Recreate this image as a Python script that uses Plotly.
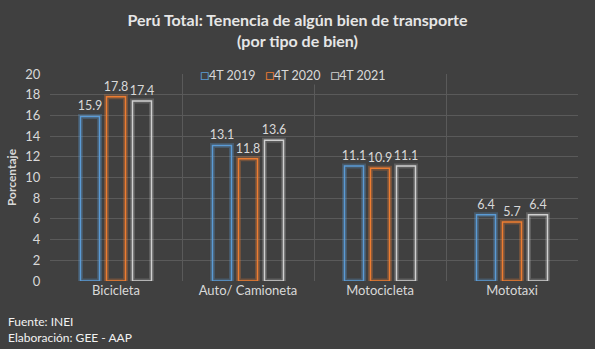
import plotly.graph_objects as go

categories = ["Bicicleta", "Auto/ Camioneta", "Motocicleta", "Mototaxi"]
series_names = ["4T 2019", "4T 2020", "4T 2021"]
v2019 = [15.9, 13.1, 11.1, 6.4]
v2020 = [17.8, 11.8, 10.9, 5.7]
v2021 = [17.4, 13.6, 11.1, 6.4]
y_ticks = [0, 2, 4, 6, 8, 10, 12, 14, 16, 18, 20]

series_values = [v2019, v2020, v2021]
colors = ["#5B9BD5", "#ED7D31", "#D0D0D0"]
glows = ["rgba(91,155,213,0.28)", "rgba(237,125,49,0.28)", "rgba(200,200,200,0.22)"]

BG = "#404040"
TXT = "#D9D9D9"
FONT = "Lato, 'Open Sans', sans-serif"

bar_w = 0.144
offsets = [-0.197, 0.0, 0.197]

fig = go.Figure()
# glow layer
for name, vals, g, off in zip(series_names, series_values, glows, offsets):
    fig.add_trace(go.Bar(
        x=categories, y=vals, width=bar_w, offset=off - bar_w / 2,
        marker=dict(color="rgba(0,0,0,0)", line=dict(color=g, width=5)),
        showlegend=False, hoverinfo="skip",
    ))
for name, vals, c, off in zip(series_names, series_values, colors, offsets):
    fig.add_trace(go.Bar(
        name=name, x=categories, y=vals, width=bar_w, offset=off - bar_w / 2,
        marker=dict(color="rgba(64,64,64,0.0)", line=dict(color=c, width=1.5)),
        text=[f"{v:.1f}" for v in vals], textposition="outside",
        textfont=dict(color=TXT, size=12.5, family=FONT),
        constraintext="none", cliponaxis=False, showlegend=False,
    ))

# compact legend (Excel-style) built from the series names/colours
legend_text = "   ".join(
    f'<span style="color:{c};font-size:15px">□</span>{n}' for n, c in zip(series_names, colors)
)
fig.add_annotation(
    text=legend_text, xref="paper", yref="paper", x=(293 - 50) / 528, y=1.0,
    xanchor="center", yanchor="middle", showarrow=False, bgcolor=BG,
    font=dict(size=12.5, color=TXT, family=FONT),
)

fig.update_layout(
    width=595, height=349,
    paper_bgcolor=BG, plot_bgcolor=BG,
    barmode="overlay",
    margin=dict(l=50, r=17, t=74, b=68),
    font=dict(family=FONT, color=TXT, size=13),
    title=dict(
        text="<b>Perú Total: Tenencia de algún bien de transporte<br>(por tipo de bien)</b>",
        x=0.5, xanchor="center", y=0.925, yanchor="middle", yref="container",
        font=dict(size=16, color="#E6E6E6", family=FONT),
    ),
    showlegend=False,
)
fig.update_xaxes(
    showgrid=True, gridcolor="#5A5A5A", gridwidth=1, tickson="boundaries",
    ticks="outside", ticklen=9, tickcolor=BG, showline=False, zeroline=False,
    tickfont=dict(size=13, color=TXT, family=FONT),
    range=[-0.5, 3.5],
)
fig.update_yaxes(
    range=[0, 20], tickvals=y_ticks, showgrid=True, gridcolor="#5A5A5A", gridwidth=1,
    zeroline=False, showline=False, ticks="outside", ticklen=6, tickcolor=BG,
    tickfont=dict(size=13, color=TXT, family=FONT),
    title=dict(text="<b>Porcentaje</b>", font=dict(size=12, color=TXT, family=FONT), standoff=6),
)
fig.add_annotation(
    text="Fuente: INEI<br>Elaboración: GEE - AAP", xref="paper", yref="paper",
    x=-0.084, y=-0.15, xanchor="left", yanchor="top", align="left", showarrow=False,
    font=dict(size=12, color="#F2F2F2", family=FONT),
)
fig.write_html("out.html")
